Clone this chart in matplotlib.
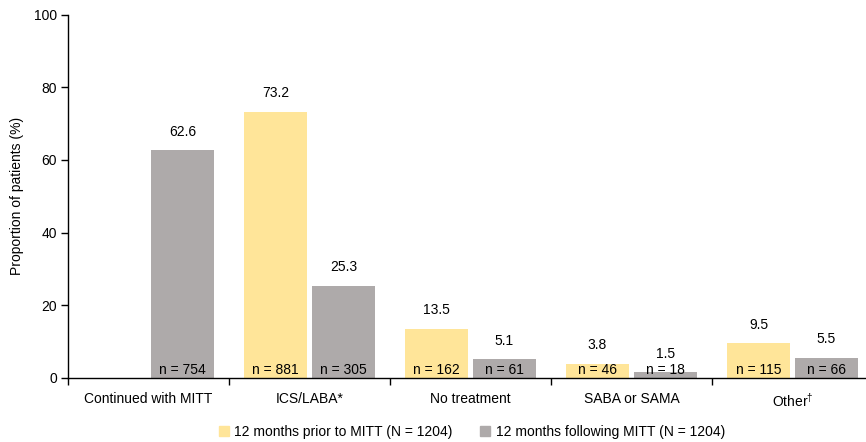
import matplotlib
matplotlib.use("Agg")
import matplotlib.pyplot as plt
import numpy as np
from matplotlib.patches import Patch

plt.rcParams['font.family'] = ['Liberation Sans', 'DejaVu Sans']
plt.rcParams['mathtext.fontset'] = 'custom'
plt.rcParams['mathtext.rm'] = 'Liberation Sans'
plt.rcParams['mathtext.it'] = 'Liberation Sans'

categories = ["Continued with MITT", "ICS/LABA*", "No treatment", "SABA or SAMA", "Other$^{\u2020}$"]
prior_pct = [None, 73.2, 13.5, 3.8, 9.5]
prior_n = [None, 881, 162, 46, 115]
follow_pct = [62.6, 25.3, 5.1, 1.5, 5.5]
follow_n = [754, 305, 61, 18, 66]
series_labels = ["12 months prior to MITT (N = 1204)", "12 months following MITT (N = 1204)"]

yellow = "#FFE599"
gray = "#AEAAAA"

W, H = 866, 442
fig = plt.figure(figsize=(W / 100, H / 100), dpi=100)
ax = fig.add_axes([68 / W, 1 - 377.7 / H, (W - 68) / W, (377.7 - 14.7) / H])

x = np.arange(len(categories))
off = 0.211
bw = 0.397
fs = 10

for i in range(len(categories)):
    if prior_pct[i] is not None:
        ax.bar(x[i] - off, prior_pct[i], bw, color=yellow)
        ax.text(x[i] - off, prior_pct[i] + 3.2, f"{prior_pct[i]}", ha="center", va="bottom", fontsize=fs)
        ax.text(x[i] - off, 2, f"n = {prior_n[i]}", ha="center", va="center", fontsize=fs)
    ax.bar(x[i] + off, follow_pct[i], bw, color=gray)
    ax.text(x[i] + off, follow_pct[i] + 3.2, f"{follow_pct[i]}", ha="center", va="bottom", fontsize=fs)
    ax.text(x[i] + off, 2, f"n = {follow_n[i]}", ha="center", va="center", fontsize=fs)

ax.set_yticks([0, 20, 40, 60, 80, 100])
ax.set_xticks(np.arange(len(categories) + 1) - 0.5)
ax.set_xticklabels([])
ax.set_xticks(x, minor=True)
ax.set_xticklabels(categories, minor=True, fontsize=fs)

# category axis runs off the right edge of the figure
cat_w = 161.0
ax.set_xlim(-0.5, -0.5 + (W - 68) / cat_w)
ax.set_ylim(0, 100)

ax.tick_params(axis="x", which="minor", length=0, pad=10)
ax.tick_params(axis="x", which="major", length=5, width=1, direction="out")
ax.tick_params(axis="y", length=5, width=1, direction="out", labelsize=fs, pad=3)
for s in ["top", "right"]:
    ax.spines[s].set_visible(False)
for s in ["left", "bottom"]:
    ax.spines[s].set_linewidth(1)
ax.spines["bottom"].set_clip_on(False)
ax.set_ylabel("Proportion of patients (%)", fontsize=fs, labelpad=7)

handles = [Patch(color=yellow), Patch(color=gray)]
fig.legend(handles, series_labels, loc="center", bbox_to_anchor=(472 / W, 1 - 432 / H),
           ncol=2, frameon=False, fontsize=fs, handlelength=0.7, handleheight=0.7,
           handletextpad=0.4, columnspacing=2.0)

fig.savefig("out.png", dpi=100)
